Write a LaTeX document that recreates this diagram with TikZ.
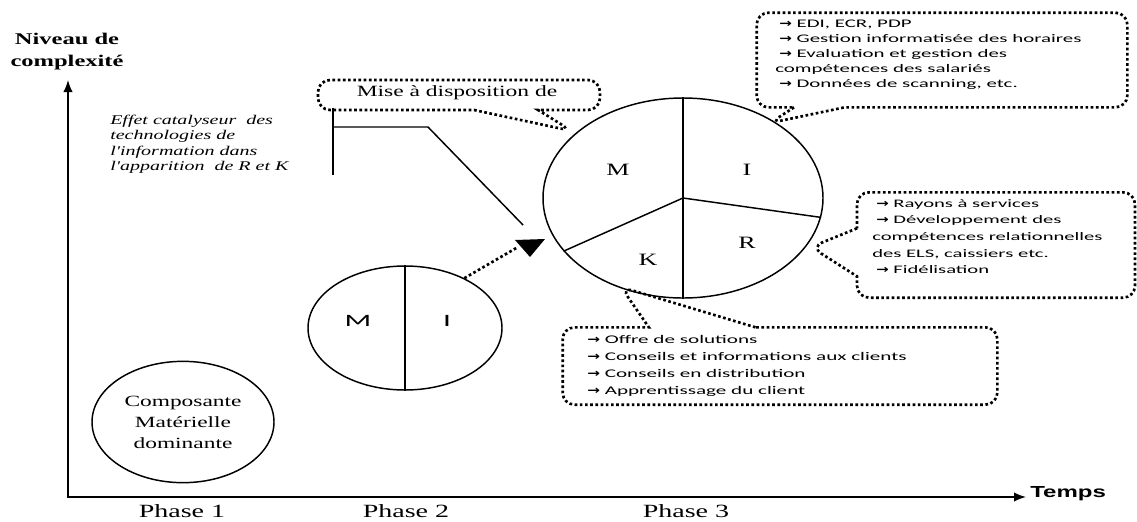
\documentclass[tikz,border=0pt]{standalone}
\usepackage{fontspec}
\usetikzlibrary{shapes.geometric,shapes.callouts,arrows.meta,calc}
\setmainfont{Liberation Serif}
\newfontfamily\boxfont[FakeStretch=1.8]{Carlito}
\newfontfamily\serfont[FakeStretch=1.5]{Liberation Serif}
\newfontfamily\hdfont[FakeStretch=1.5]{Liberation Sans}
\newfontfamily\arrfont[FakeStretch=1.3]{DejaVu Sans}
\newcommand\arr{{\arrfont\bfseries →}}
\tikzset{
  dotln/.style={line width=2pt, dash pattern=on 2pt off 1.9pt},
  callbox/.style={rectangle callout, draw, dotln, rounded corners=9pt, inner sep=0pt},
  circ/.style={ellipse, draw, line width=1.1pt, inner sep=0pt},
  solid1/.style={line width=1.1pt},
  lbl/.style={inner sep=0pt},
  txt/.style={inner sep=0pt, align=left, anchor=west},
  axtip/.style={line width=1.1pt, {Latex[length=9pt,width=7pt]}-{Latex[length=9pt,width=7pt]}},
}
\begin{document}
\begin{tikzpicture}[x=0.75pt,y=-0.75pt]
\useasboundingbox (0,0) rectangle (1137,521);
% axes
\coordinate (o) at (68,497);
\coordinate (ytip) at (68,80);
\coordinate (xtip) at (1026,497);
\draw[axtip] (ytip) -- (o) -- (xtip);
\node[lbl, align=center, font=\serfont\bfseries\fontsize{12.25}{16.5}\selectfont] (ylab) at (67,52) {Niveau de\\complexité};
\node[lbl, anchor=west, font=\hdfont\bfseries\fontsize{12}{14}\selectfont] (xlab) at (1030,494) {Temps};
\node[lbl, font=\serfont\fontsize{14}{16}\selectfont] (ph1) at (182,511) {Phase 1};
\node[lbl, font=\serfont\fontsize{14}{16}\selectfont] (ph2) at (406,511) {Phase 2};
\node[lbl, font=\serfont\fontsize{14}{16}\selectfont] (ph3) at (686,511) {Phase 3};
% phase 1 circle
\node[circ, minimum width=136.5pt, minimum height=91pt] (c1) at (183,422) {};
\node[lbl, align=center, font=\serfont\fontsize{11.7}{15.75}\selectfont] (c1t) at (c1.center) {Composante\\Matérielle\\dominante};
% phase 2 circle
\node[circ, minimum width=145.5pt, minimum height=93pt] (c2) at (405,328) {};
\draw[solid1] (c2.north) -- (c2.south);
\node[lbl, font=\boxfont\fontsize{13}{15}\selectfont] (m2) at (358,321) {M};
\node[lbl, font=\boxfont\fontsize{13}{15}\selectfont] (i2) at (447,321) {I};
% phase 3 circle
\node[circ, minimum width=210pt, minimum height=150pt] (c3) at (683,198) {};
\draw[solid1] (c3.north) -- (c3.south);
\draw[solid1] (c3.center) -- (c3.204);
\draw[solid1] (c3.center) -- (c3.352);
\node[lbl, font=\serfont\fontsize{13}{15}\selectfont] (m3) at (618,170) {M};
\node[lbl, font=\serfont\fontsize{13}{15}\selectfont] (i3) at (747,170) {I};
\node[lbl, font=\serfont\fontsize{13}{15}\selectfont] (k3) at (648,260) {K};
\node[lbl, font=\serfont\fontsize{13}{15}\selectfont] (r3) at (747,243) {R};
% bracket line
\coordinate (b1) at (333,108);
\coordinate (b2) at (333,175);
\coordinate (b3) at (333,127);
\coordinate (b4) at (428,127);
\coordinate (b5) at (523,225);
\draw[solid1] (b1) -- (b2);
\draw[solid1] (b3) -- (b4) -- (b5);
% triangle head
\coordinate (t1) at (515,240);
\coordinate (t2) at (545,239);
\coordinate (t3) at (530,257);
\coordinate (tin) at (518,247);
\fill (t1) -- (t2) -- (t3) -- cycle;
\draw[dotln] (c2.40) -- (tin);
% italic text
\node[txt, font=\serfont\itshape\fontsize{10}{11.6}\selectfont] (cat) at (110,144) {Effet catalyseur\ \ des\\technologies de\\l'information dans\\l'apparition\ \ de R et K};
% Mise a disposition
\coordinate (pM) at (572,131);
\node[callbox, minimum width=211.5pt, minimum height=22.5pt, callout absolute pointer={(pM)}, callout pointer width=48pt] (boxM) at (459,95) {};
\node[lbl, font=\serfont\fontsize{11.75}{14}\selectfont] (tM) at (457,93) {Mise à disposition de};
% I box
\coordinate (pI) at (770,123);
\node[callbox, minimum width=278pt, minimum height=71pt, callout absolute pointer={(pI)}, callout pointer width=38pt] (boxI) at (942,60) {};
\node[txt, font=\boxfont\fontsize{8.7}{11.25}\selectfont] (tI) at (775,55) {\hspace*{3pt}\arr\ EDI, ECR, PDP\\\hspace*{3pt}\arr\ Gestion informatisée des horaires\\\hspace*{3pt}\arr\ Evaluation et gestion des\\compétences des salariés\\\hspace*{3pt}\arr\ Données de scanning, etc.};
% R box
\coordinate (pR) at (811,247);
\node[callbox, minimum width=208.5pt, minimum height=79pt, callout absolute pointer={(pR)}, callout pointer width=36pt] (boxR) at (996,245) {};
\node[txt, font=\boxfont\fontsize{8.6}{12.5}\selectfont] (tR) at (872,236.5) {\hspace*{3pt}\arr\ Rayons à services\\\hspace*{3pt}\arr\ Développement des\\compétences relationnelles\\des ELS, caissiers etc.\\\hspace*{3pt}\arr\ Fidélisation};
% K box
\coordinate (pO) at (621,287);
\node[callbox, minimum width=326pt, minimum height=58pt, callout absolute pointer={(pO)}, callout pointer width=80pt] (boxO) at (780,366) {};
\node[txt, font=\boxfont\fontsize{8.8}{12.75}\selectfont] (tO) at (587,365.5) {\arr\ Offre de solutions\\\arr\ Conseils et informations aux clients\\\arr\ Conseils en distribution\\\arr\ Apprentissage du client};
\end{tikzpicture}
\end{document}
